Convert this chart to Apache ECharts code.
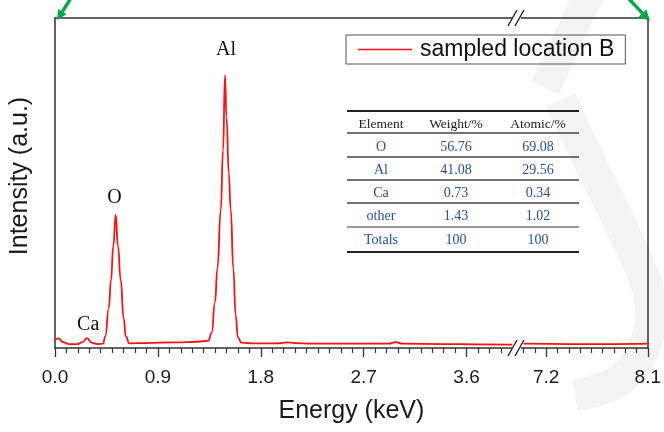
<!DOCTYPE html>
<html>
<head>
<meta charset="utf-8">
<script src="https://cdn.jsdelivr.net/npm/echarts@6.0.0/dist/echarts.min.js"></script>
<style>
html,body{margin:0;padding:0;background:#fff;}
#chart{width:664px;height:432px;}
</style>
</head>
<body>
<div id="chart"></div>
<script>
// ---- data ----
var seriesName = 'sampled location B';
// low-energy segment (0 - 4.05 keV)
var energyLow = [0.00,0.03,0.07,0.12,0.20,0.24,0.28,0.32,0.37,0.42,0.44,0.47,0.49,0.51,0.531,0.55,0.575,0.60,0.62,0.65,0.80,1.05,1.25,1.34,1.37,1.40,1.42,1.45,1.47,1.487,1.50,1.52,1.537,1.56,1.58,1.60,1.63,1.75,1.95,2.03,2.10,2.25,2.60,2.92,2.98,3.04,3.40,3.70,4.00];
var intensityLow = [2.4,2.9,1.8,1.2,1.2,1.8,3.0,1.6,1.2,1.3,3.5,12,20.6,31,40.3,31,20.6,9,3.5,1.4,1.5,1.7,1.9,2.2,4.5,14,24,41.8,60,82.7,70,53,42,24,10,3.2,1.6,1.4,1.4,1.7,1.5,1.3,1.3,1.3,1.8,1.3,1.2,1.1,1.0];
// high-energy segment (6.95 - 8.1 keV)
var energyHigh = [7.00,7.40,7.80,8.10];
var intensityHigh = [1.3,1.2,1.2,1.3];

var majorTicksLow = [0, 0.9, 1.8, 2.7, 3.6];
var majorTicksHigh = [7.2, 8.1];
var axisRangeLow = [0, 4.05];
var axisRangeHigh = [6.95, 8.1];

var peakNames = ['Ca', 'O', 'Al'];
var peakLabelEnergy = [0.29, 0.52, 1.496];
var peakLabelHeight = [7, 45.5, 90.3];

var tableHeaders = ['Element', 'Weight/%', 'Atomic/%'];
var tableElements = ['O', 'Al', 'Ca', 'other', 'Totals'];
var tableWeight = ['56.76', '41.08', '0.73', '1.43', '100'];
var tableAtomic = ['69.08', '29.56', '0.34', '1.02', '100'];

// minor ticks every 0.1 keV (not on the 0.9 majors)
var minorTicksLow = [], minorTicksHigh = [];
for (var i = 1; i <= 39; i++) { if (i % 9 !== 0) minorTicksLow.push(i / 10); }
for (var j = 70; j <= 80; j++) { if (j % 9 !== 0) minorTicksHigh.push(j / 10); }

function pairs(xs, ys) { return xs.map(function (x, k) { return [x, ys[k]]; }); }

var SANS = 'Liberation Sans, Arial, sans-serif';
var SERIF = 'Liberation Serif, Times New Roman, serif';
var AX = '#333';
var RED = '#ff1010';

var chart = echarts.init(document.getElementById('chart'), null, {renderer: 'canvas'});

function bottomMajor(gi, range, ticks) {
  return {
    type: 'value', gridIndex: gi, position: 'bottom', min: range[0], max: range[1],
    axisLine: {show: true, lineStyle: {color: AX, width: 1.5}},
    axisTick: {show: true, customValues: ticks, length: 9, inside: false, lineStyle: {color: AX, width: 1.3}},
    axisLabel: {show: true, customValues: ticks, margin: 20, fontFamily: SANS, fontSize: 19, color: '#1a1a1a',
      formatter: function (v) { return v.toFixed(1); }},
    splitLine: {show: false}
  };
}
function bottomMinor(gi, range, ticks) {
  return {
    type: 'value', gridIndex: gi, position: 'bottom', min: range[0], max: range[1],
    axisLine: {show: false},
    axisTick: {show: true, customValues: ticks, length: 5, inside: false, lineStyle: {color: AX, width: 1.2}},
    axisLabel: {show: false}, splitLine: {show: false}
  };
}
function topLine(gi, range) {
  return {
    type: 'value', gridIndex: gi, position: 'top', min: range[0], max: range[1],
    axisLine: {show: true, onZero: false, lineStyle: {color: AX, width: 1.5}},
    axisTick: {show: false}, axisLabel: {show: false}, splitLine: {show: false}
  };
}

var option = {
  backgroundColor: '#fff',
  animation: false,
  grid: [
    {left: 55, top: 18, width: 463, height: 330},
    {left: 518, top: 18, width: 130, height: 330}
  ],
  xAxis: [
    bottomMajor(0, axisRangeLow, majorTicksLow),
    bottomMinor(0, axisRangeLow, minorTicksLow),
    topLine(0, axisRangeLow),
    bottomMajor(1, axisRangeHigh, majorTicksHigh),
    bottomMinor(1, axisRangeHigh, minorTicksHigh),
    topLine(1, axisRangeHigh)
  ],
  yAxis: [
    {type: 'value', gridIndex: 0, position: 'left', min: 0, max: 100,
      axisLine: {show: true, onZero: false, lineStyle: {color: AX, width: 1.5}},
      axisTick: {show: false}, axisLabel: {show: false}, splitLine: {show: false}},
    {type: 'value', gridIndex: 1, position: 'right', min: 0, max: 100,
      axisLine: {show: true, onZero: false, lineStyle: {color: AX, width: 1.5}},
      axisTick: {show: false}, axisLabel: {show: false}, splitLine: {show: false}}
  ],
  legend: {
    data: [{name: seriesName, icon: 'rect', itemStyle: {color: RED}}],
    left: 346, top: 35,
    itemWidth: 54, itemHeight: 1.6,
    borderColor: '#555', borderWidth: 1, borderRadius: 0,
    padding: [3, 11, 3, 12],
    textStyle: {fontFamily: SANS, fontSize: 23, color: '#111', padding: [0, 0, 0, 3]}
  },
  series: [
    {
      name: seriesName, type: 'line', xAxisIndex: 0, yAxisIndex: 0,
      data: pairs(energyLow, intensityLow),
      symbol: 'none', smooth: 0.5, smoothMonotone: 'x',
      lineStyle: {color: RED, width: 1.8}, itemStyle: {color: RED},
      markPoint: {
        symbol: 'rect', symbolSize: 0,
        label: {show: true, position: 'inside', formatter: '{b}', fontFamily: SERIF, fontSize: 20, color: '#111'},
        data: peakNames.map(function (n, k) { return {name: n, coord: [peakLabelEnergy[k], peakLabelHeight[k]]}; })
      }
    },
    {
      name: seriesName, type: 'line', xAxisIndex: 3, yAxisIndex: 1,
      data: pairs(energyHigh, intensityHigh),
      symbol: 'none', smooth: 0.35,
      lineStyle: {color: RED, width: 1.8}, itemStyle: {color: RED}
    }
  ]
};
chart.setOption(option);

// ---- decorations placed from the axes ----
var bx = chart.convertToPixel({xAxisIndex: 0}, axisRangeLow[1]);
var by = chart.convertToPixel({yAxisIndex: 0}, 0);
var ty = chart.convertToPixel({yAxisIndex: 0}, 100);
var lx = chart.convertToPixel({xAxisIndex: 0}, axisRangeLow[0]);
var rx = chart.convertToPixel({xAxisIndex: 3}, axisRangeHigh[1]);
var cx = (lx + rx) / 2;

var g = [];
// faint watermark
g.push({type: 'polyline', z: -10, silent: true, shape: {points: [[590, -8], [545, 88]]},
  style: {stroke: '#f3f3f3', lineWidth: 30, fill: null}});
g.push({type: 'polyline', z: -10, silent: true,
  shape: {points: [[560, 100], [600, 183], [632, 250], [650, 300], [645, 345], [620, 380], [575, 395]], smooth: 0.4},
  style: {stroke: '#f3f3f3', lineWidth: 32, fill: null}});

// axis break marks
[by, ty].forEach(function (yy) {
  g.push({type: 'rect', z: 50, shape: {x: bx - 6, y: yy - 3, width: 9, height: 6}, style: {fill: '#fff'}});
  g.push({type: 'line', z: 51, shape: {x1: bx - 10, y1: yy + 8, x2: bx - 1, y2: yy - 8}, style: {stroke: '#222', lineWidth: 1.4}});
  g.push({type: 'line', z: 51, shape: {x1: bx - 3, y1: yy + 8, x2: bx + 6, y2: yy - 8}, style: {stroke: '#222', lineWidth: 1.4}});
});

// axis titles
g.push({type: 'text', z: 50, x: cx, y: 411, style: {text: 'Energy (keV)', font: '25px ' + SANS, fill: '#1a1a1a', textAlign: 'center', textVerticalAlign: 'middle'}});
g.push({type: 'text', z: 50, x: 20, y: 176, rotation: Math.PI / 2, style: {text: 'Intensity (a.u.)', font: '25px ' + SANS, fill: '#1a1a1a', textAlign: 'center', textVerticalAlign: 'middle'}});

// inset table
var tL = 347, tR = 579;
var colX = [381, 456, 538];
var lineY = [111, 133, 157, 180, 203, 227, 252];
var textY = [124, 147, 170, 193, 216.5, 240];
lineY.forEach(function (y, k) {
  var thick = (k === 0 || k === lineY.length - 1);
  g.push({type: 'line', z: 40, shape: {x1: tL, y1: y, x2: tR, y2: y}, style: {stroke: thick ? '#222' : (k === 5 ? '#777' : '#444'), lineWidth: thick ? 2 : 1.3}});
});
tableHeaders.forEach(function (h, c) {
  g.push({type: 'text', z: 41, x: colX[c], y: textY[0], style: {text: h, font: '13.5px ' + SERIF, fill: '#222', textAlign: 'center', textVerticalAlign: 'middle'}});
});
tableElements.forEach(function (el, r) {
  [el, tableWeight[r], tableAtomic[r]].forEach(function (t, c) {
    g.push({type: 'text', z: 41, x: colX[c], y: textY[r + 1], style: {text: t, font: '14px ' + SERIF, fill: '#2a4d9e', textAlign: 'center', textVerticalAlign: 'middle'}});
  });
});

// green corner arrows
var GREEN = '#08a84a';
g.push({type: 'line', z: 60, shape: {x1: 71, y1: -2, x2: 62.4, y2: 11.6}, style: {stroke: GREEN, lineWidth: 3.5}});
g.push({type: 'polygon', z: 60, shape: {points: [[57, 20], [66.6, 14.3], [58.2, 8.9]]}, style: {fill: GREEN}});
g.push({type: 'line', z: 60, shape: {x1: 628, y1: -2, x2: 642.4, y2: 13.1}, style: {stroke: GREEN, lineWidth: 3.5}});
g.push({type: 'polygon', z: 60, shape: {points: [[650, 21], [638.4, 16.9], [646.4, 9.3]]}, style: {fill: GREEN}});

chart.setOption({graphic: {elements: g}});
</script>
</body>
</html>
